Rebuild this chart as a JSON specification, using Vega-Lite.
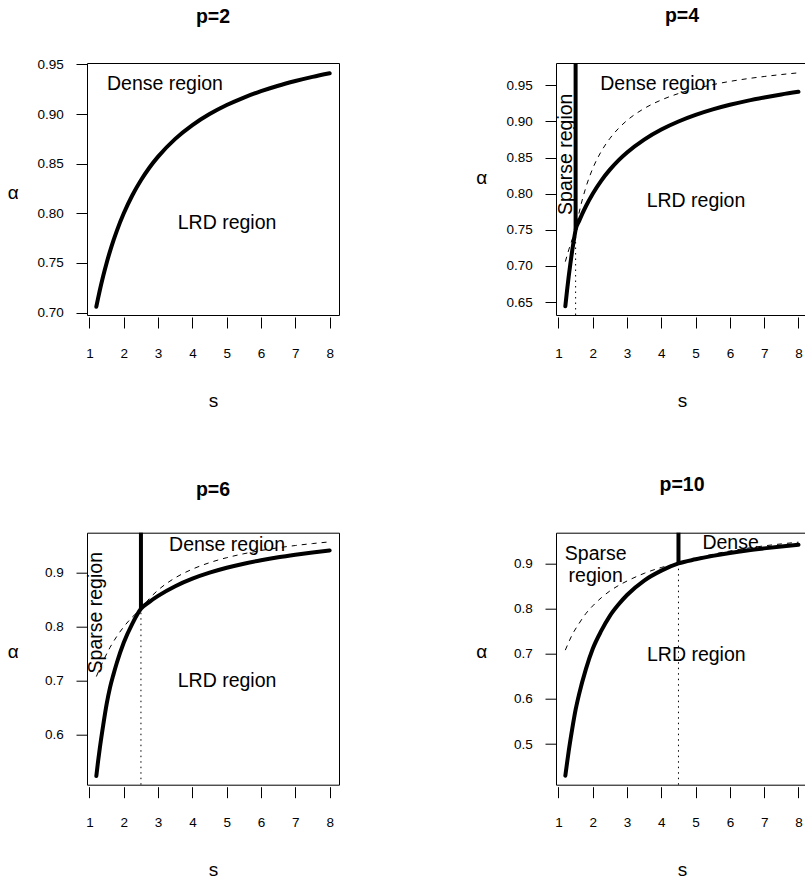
{
  "$schema": "https://vega.github.io/schema/vega-lite/v6.json",
  "background": "white",
  "padding": {"left": 6, "top": 5, "right": 0, "bottom": 0},
  "autosize": {"type": "pad"},
  "datasets": {
    "curves": [
      {"p": 2, "series": "solid", "s": 1.2, "a": 0.7059}, {"p": 2, "series": "solid", "s": 1.25, "a": 0.7143}, {"p": 2, "series": "solid", "s": 1.3, "a": 0.7222}, {"p": 2, "series": "solid", "s": 1.4, "a": 0.7368}, {"p": 2, "series": "solid", "s": 1.5, "a": 0.75}, {"p": 2, "series": "solid", "s": 1.6, "a": 0.7619}, {"p": 2, "series": "solid", "s": 1.7, "a": 0.7727}, {"p": 2, "series": "solid", "s": 1.8, "a": 0.7826}, {"p": 2, "series": "solid", "s": 2, "a": 0.8}, {"p": 2, "series": "solid", "s": 2.25, "a": 0.8182}, {"p": 2, "series": "solid", "s": 2.5, "a": 0.8333}, {"p": 2, "series": "solid", "s": 2.75, "a": 0.8462}, {"p": 2, "series": "solid", "s": 3, "a": 0.8571}, {"p": 2, "series": "solid", "s": 3.5, "a": 0.875}, {"p": 2, "series": "solid", "s": 4, "a": 0.8889}, {"p": 2, "series": "solid", "s": 4.5, "a": 0.9}, {"p": 2, "series": "solid", "s": 5, "a": 0.9091}, {"p": 2, "series": "solid", "s": 5.5, "a": 0.9167}, {"p": 2, "series": "solid", "s": 6, "a": 0.9231}, {"p": 2, "series": "solid", "s": 6.5, "a": 0.9286}, {"p": 2, "series": "solid", "s": 7, "a": 0.9333}, {"p": 2, "series": "solid", "s": 7.5, "a": 0.9375}, {"p": 2, "series": "solid", "s": 8, "a": 0.9412},

      {"p": 4, "series": "solid", "s": 1.2, "a": 0.644}, {"p": 4, "series": "solid", "s": 1.25, "a": 0.666}, {"p": 4, "series": "solid", "s": 1.3, "a": 0.686}, {"p": 4, "series": "solid", "s": 1.35, "a": 0.704}, {"p": 4, "series": "solid", "s": 1.4, "a": 0.721}, {"p": 4, "series": "solid", "s": 1.45, "a": 0.736}, {"p": 4, "series": "solid", "s": 1.5, "a": 0.75}, {"p": 4, "series": "solid", "s": 1.6, "a": 0.7619}, {"p": 4, "series": "solid", "s": 1.7, "a": 0.7727}, {"p": 4, "series": "solid", "s": 1.8, "a": 0.7826}, {"p": 4, "series": "solid", "s": 2, "a": 0.8}, {"p": 4, "series": "solid", "s": 2.25, "a": 0.8182}, {"p": 4, "series": "solid", "s": 2.5, "a": 0.8333}, {"p": 4, "series": "solid", "s": 2.75, "a": 0.8462}, {"p": 4, "series": "solid", "s": 3, "a": 0.8571}, {"p": 4, "series": "solid", "s": 3.5, "a": 0.875}, {"p": 4, "series": "solid", "s": 4, "a": 0.8889}, {"p": 4, "series": "solid", "s": 4.5, "a": 0.9}, {"p": 4, "series": "solid", "s": 5, "a": 0.9091}, {"p": 4, "series": "solid", "s": 5.5, "a": 0.9167}, {"p": 4, "series": "solid", "s": 6, "a": 0.9231}, {"p": 4, "series": "solid", "s": 6.5, "a": 0.9286}, {"p": 4, "series": "solid", "s": 7, "a": 0.9333}, {"p": 4, "series": "solid", "s": 7.5, "a": 0.9375}, {"p": 4, "series": "solid", "s": 8, "a": 0.9412},
      {"p": 4, "series": "dashed", "s": 1.2, "a": 0.7059}, {"p": 4, "series": "dashed", "s": 1.3, "a": 0.7222}, {"p": 4, "series": "dashed", "s": 1.4, "a": 0.7368}, {"p": 4, "series": "dashed", "s": 1.5, "a": 0.75}, {"p": 4, "series": "dashed", "s": 1.6, "a": 0.7733}, {"p": 4, "series": "dashed", "s": 1.8, "a": 0.8088}, {"p": 4, "series": "dashed", "s": 2, "a": 0.835}, {"p": 4, "series": "dashed", "s": 2.25, "a": 0.8587}, {"p": 4, "series": "dashed", "s": 2.5, "a": 0.8765}, {"p": 4, "series": "dashed", "s": 2.75, "a": 0.8904}, {"p": 4, "series": "dashed", "s": 3, "a": 0.9015}, {"p": 4, "series": "dashed", "s": 3.5, "a": 0.918}, {"p": 4, "series": "dashed", "s": 4, "a": 0.9298}, {"p": 4, "series": "dashed", "s": 4.5, "a": 0.9387}, {"p": 4, "series": "dashed", "s": 5, "a": 0.9455}, {"p": 4, "series": "dashed", "s": 5.5, "a": 0.951}, {"p": 4, "series": "dashed", "s": 6, "a": 0.9555}, {"p": 4, "series": "dashed", "s": 6.5, "a": 0.9592}, {"p": 4, "series": "dashed", "s": 7, "a": 0.9623}, {"p": 4, "series": "dashed", "s": 7.5, "a": 0.965}, {"p": 4, "series": "dashed", "s": 8, "a": 0.9674},

      {"p": 6, "series": "solid", "s": 1.2, "a": 0.524}, {"p": 6, "series": "solid", "s": 1.25, "a": 0.551}, {"p": 6, "series": "solid", "s": 1.3, "a": 0.575}, {"p": 6, "series": "solid", "s": 1.4, "a": 0.618}, {"p": 6, "series": "solid", "s": 1.5, "a": 0.657}, {"p": 6, "series": "solid", "s": 1.6, "a": 0.688}, {"p": 6, "series": "solid", "s": 1.7, "a": 0.712}, {"p": 6, "series": "solid", "s": 1.8, "a": 0.734}, {"p": 6, "series": "solid", "s": 2, "a": 0.771}, {"p": 6, "series": "solid", "s": 2.25, "a": 0.806}, {"p": 6, "series": "solid", "s": 2.5, "a": 0.8333}, {"p": 6, "series": "solid", "s": 2.75, "a": 0.8462}, {"p": 6, "series": "solid", "s": 3, "a": 0.8571}, {"p": 6, "series": "solid", "s": 3.5, "a": 0.875}, {"p": 6, "series": "solid", "s": 4, "a": 0.8889}, {"p": 6, "series": "solid", "s": 4.5, "a": 0.9}, {"p": 6, "series": "solid", "s": 5, "a": 0.9091}, {"p": 6, "series": "solid", "s": 5.5, "a": 0.9167}, {"p": 6, "series": "solid", "s": 6, "a": 0.9231}, {"p": 6, "series": "solid", "s": 6.5, "a": 0.9286}, {"p": 6, "series": "solid", "s": 7, "a": 0.9333}, {"p": 6, "series": "solid", "s": 7.5, "a": 0.9375}, {"p": 6, "series": "solid", "s": 8, "a": 0.9412},
      {"p": 6, "series": "dashed", "s": 1.2, "a": 0.708}, {"p": 6, "series": "dashed", "s": 1.4, "a": 0.7368}, {"p": 6, "series": "dashed", "s": 1.6, "a": 0.7619}, {"p": 6, "series": "dashed", "s": 1.8, "a": 0.7826}, {"p": 6, "series": "dashed", "s": 2, "a": 0.8}, {"p": 6, "series": "dashed", "s": 2.25, "a": 0.8182}, {"p": 6, "series": "dashed", "s": 2.5, "a": 0.8333}, {"p": 6, "series": "dashed", "s": 2.75, "a": 0.8526}, {"p": 6, "series": "dashed", "s": 3, "a": 0.8679}, {"p": 6, "series": "dashed", "s": 3.5, "a": 0.8906}, {"p": 6, "series": "dashed", "s": 4, "a": 0.9066}, {"p": 6, "series": "dashed", "s": 4.5, "a": 0.9186}, {"p": 6, "series": "dashed", "s": 5, "a": 0.9278}, {"p": 6, "series": "dashed", "s": 5.5, "a": 0.9351}, {"p": 6, "series": "dashed", "s": 6, "a": 0.9411}, {"p": 6, "series": "dashed", "s": 6.5, "a": 0.9461}, {"p": 6, "series": "dashed", "s": 7, "a": 0.9503}, {"p": 6, "series": "dashed", "s": 7.5, "a": 0.9539}, {"p": 6, "series": "dashed", "s": 8, "a": 0.957},

      {"p": 10, "series": "solid", "s": 1.2, "a": 0.43}, {"p": 10, "series": "solid", "s": 1.25, "a": 0.458}, {"p": 10, "series": "solid", "s": 1.3, "a": 0.485}, {"p": 10, "series": "solid", "s": 1.4, "a": 0.533}, {"p": 10, "series": "solid", "s": 1.5, "a": 0.576}, {"p": 10, "series": "solid", "s": 1.6, "a": 0.61}, {"p": 10, "series": "solid", "s": 1.8, "a": 0.666}, {"p": 10, "series": "solid", "s": 2, "a": 0.711}, {"p": 10, "series": "solid", "s": 2.25, "a": 0.751}, {"p": 10, "series": "solid", "s": 2.5, "a": 0.784}, {"p": 10, "series": "solid", "s": 2.75, "a": 0.809}, {"p": 10, "series": "solid", "s": 3, "a": 0.83}, {"p": 10, "series": "solid", "s": 3.5, "a": 0.862}, {"p": 10, "series": "solid", "s": 4, "a": 0.884}, {"p": 10, "series": "solid", "s": 4.5, "a": 0.9}, {"p": 10, "series": "solid", "s": 5, "a": 0.9091}, {"p": 10, "series": "solid", "s": 5.5, "a": 0.9167}, {"p": 10, "series": "solid", "s": 6, "a": 0.9231}, {"p": 10, "series": "solid", "s": 6.5, "a": 0.9286}, {"p": 10, "series": "solid", "s": 7, "a": 0.9333}, {"p": 10, "series": "solid", "s": 7.5, "a": 0.9375}, {"p": 10, "series": "solid", "s": 8, "a": 0.9412},
      {"p": 10, "series": "dashed", "s": 1.2, "a": 0.708}, {"p": 10, "series": "dashed", "s": 1.4, "a": 0.742}, {"p": 10, "series": "dashed", "s": 1.6, "a": 0.767}, {"p": 10, "series": "dashed", "s": 1.8, "a": 0.789}, {"p": 10, "series": "dashed", "s": 2, "a": 0.806}, {"p": 10, "series": "dashed", "s": 2.25, "a": 0.824}, {"p": 10, "series": "dashed", "s": 2.5, "a": 0.839}, {"p": 10, "series": "dashed", "s": 2.75, "a": 0.851}, {"p": 10, "series": "dashed", "s": 3, "a": 0.861}, {"p": 10, "series": "dashed", "s": 3.5, "a": 0.878}, {"p": 10, "series": "dashed", "s": 4, "a": 0.891}, {"p": 10, "series": "dashed", "s": 4.5, "a": 0.9}, {"p": 10, "series": "dashed", "s": 5, "a": 0.9112}, {"p": 10, "series": "dashed", "s": 5.5, "a": 0.9202}, {"p": 10, "series": "dashed", "s": 6, "a": 0.9275}, {"p": 10, "series": "dashed", "s": 6.5, "a": 0.9336}, {"p": 10, "series": "dashed", "s": 7, "a": 0.9388}, {"p": 10, "series": "dashed", "s": 7.5, "a": 0.9432}, {"p": 10, "series": "dashed", "s": 8, "a": 0.947}
    ],
    "vlines": [
      {"p": 4, "kind": "thick", "s": 1.5, "a": 0.75, "a2": 0.981},
      {"p": 4, "kind": "dotted", "s": 1.5, "a": 0.632, "a2": 0.75},
      {"p": 6, "kind": "thick", "s": 2.5, "a": 0.8333, "a2": 0.974},
      {"p": 6, "kind": "dotted", "s": 2.5, "a": 0.508, "a2": 0.8333},
      {"p": 10, "kind": "thick", "s": 4.5, "a": 0.9, "a2": 0.968},
      {"p": 10, "kind": "dotted", "s": 4.5, "a": 0.41, "a2": 0.9}
    ],
    "labels": [
      {"p": 2, "dir": "h", "label": "Dense region", "s": 3.2, "a": 0.9243},
      {"p": 2, "dir": "h", "label": "LRD region", "s": 5.01, "a": 0.7842},
      {"p": 4, "dir": "h", "label": "Dense region", "s": 3.91, "a": 0.9436},
      {"p": 4, "dir": "h", "label": "LRD region", "s": 5.01, "a": 0.7816},
      {"p": 4, "dir": "v", "label": "Sparse region", "s": 1.395, "a": 0.8546},
      {"p": 6, "dir": "h", "label": "Dense region", "s": 5.01, "a": 0.9402},
      {"p": 6, "dir": "h", "label": "LRD region", "s": 5.01, "a": 0.6887},
      {"p": 6, "dir": "v", "label": "Sparse region", "s": 1.374, "a": 0.826},
      {"p": 10, "dir": "h", "label": "Sparse", "s": 2.086, "a": 0.9085},
      {"p": 10, "dir": "h", "label": "region", "s": 2.086, "a": 0.8585},
      {"p": 10, "dir": "h", "label": "Dense", "s": 6.02, "a": 0.9312},
      {"p": 10, "dir": "h", "label": "LRD region", "s": 5.02, "a": 0.685}
    ]
  },
  "columns": 2,
  "spacing": {"row": 217.7, "column": 217},
  "bounds": "flush",
  "concat": [
    {
      "width": 252, "height": 252,
      "view": {"stroke": "black", "strokeWidth": 1},
      "title": {"text": "p=2"},
      "encoding": {
        "x": {"field": "s", "type": "quantitative", "scale": {"domain": [0.928, 8.272], "nice": false, "zero": false}, "axis": {"values": [1, 2, 3, 4, 5, 6, 7, 8], "format": "d", "title": "s", "titleX": 126, "titleY": 89}},
        "y": {"field": "a", "type": "quantitative", "scale": {"domain": [0.6975, 0.9515], "nice": false, "zero": false}, "axis": {"values": [0.7, 0.75, 0.8, 0.85, 0.9, 0.95], "format": ".2f", "title": "α", "titleX": -74.3, "titleY": 135.3}}
      },
      "layer": [
        {"data": {"name": "curves"}, "transform": [{"filter": "datum.p == 2 && datum.series == 'solid'"}], "mark": {"type": "line", "color": "black", "strokeWidth": 4, "strokeCap": "round", "interpolate": "monotone"}},
        {"data": {"name": "labels"}, "transform": [{"filter": "datum.p == 2 && datum.dir == 'h'"}], "mark": {"type": "text", "color": "black", "font": "Liberation Sans", "fontSize": 19.5, "align": "center", "baseline": "alphabetic"}, "encoding": {"text": {"field": "label"}}}
      ]
    },
    {
      "width": 249, "height": 252,
      "view": {"stroke": null},
      "title": {"text": "p=4", "dx": 1.5},
      "encoding": {
        "x": {"field": "s", "type": "quantitative", "scale": {"domain": [0.928, 8.19], "nice": false, "zero": false}, "axis": {"values": [1, 2, 3, 4, 5, 6, 7, 8], "format": "d", "title": "s", "titleX": 126, "titleY": 89}},
        "y": {"field": "a", "type": "quantitative", "scale": {"domain": [0.632, 0.981], "nice": false, "zero": false}, "axis": {
          "values": [0.632, 0.65, 0.7, 0.75, 0.8, 0.85, 0.9, 0.95, 0.981],
          "labelExpr": "(datum.value < 0.64 || datum.value > 0.97) ? '' : format(datum.value, '.2f')",
          "domain": true, "domainColor": "black", "domainWidth": 1,
          "grid": true, "gridColor": "black", "gridWidth": 1,
          "gridOpacity": {"condition": {"test": "datum.value < 0.64 || datum.value > 0.97", "value": 1}, "value": 0},
          "tickOpacity": {"condition": {"test": "datum.value < 0.64 || datum.value > 0.97", "value": 0}, "value": 1},
          "title": "α", "titleX": -74.7, "titleY": 120.7}}
      },
      "layer": [
        {"data": {"name": "curves"}, "transform": [{"filter": "datum.p == 4 && datum.series == 'dashed'"}], "mark": {"type": "line", "color": "black", "strokeWidth": 1, "strokeDash": [5, 5], "interpolate": "monotone"}},
        {"data": {"name": "curves"}, "transform": [{"filter": "datum.p == 4 && datum.series == 'solid'"}], "mark": {"type": "line", "color": "black", "strokeWidth": 4, "strokeCap": "round", "interpolate": "monotone"}},
        {"data": {"name": "vlines"}, "transform": [{"filter": "datum.p == 4 && datum.kind == 'thick'"}], "mark": {"type": "rule", "color": "black", "strokeWidth": 4}, "encoding": {"y2": {"field": "a2"}}},
        {"data": {"name": "vlines"}, "transform": [{"filter": "datum.p == 4 && datum.kind == 'dotted'"}], "mark": {"type": "rule", "color": "black", "strokeWidth": 1, "strokeDash": [1.5, 4]}, "encoding": {"y2": {"field": "a2"}}},
        {"data": {"name": "labels"}, "transform": [{"filter": "datum.p == 4 && datum.dir == 'h'"}], "mark": {"type": "text", "color": "black", "font": "Liberation Sans", "fontSize": 19.5, "align": "center", "baseline": "alphabetic"}, "encoding": {"text": {"field": "label"}}},
        {"data": {"name": "labels"}, "transform": [{"filter": "datum.p == 4 && datum.dir == 'v'"}], "mark": {"type": "text", "color": "black", "font": "Liberation Sans", "fontSize": 19.5, "align": "center", "baseline": "alphabetic", "angle": 270}, "encoding": {"text": {"field": "label"}}}
      ]
    },
    {
      "width": 252, "height": 252,
      "view": {"stroke": "black", "strokeWidth": 1},
      "title": {"text": "p=6"},
      "encoding": {
        "x": {"field": "s", "type": "quantitative", "scale": {"domain": [0.928, 8.272], "nice": false, "zero": false}, "axis": {"values": [1, 2, 3, 4, 5, 6, 7, 8], "format": "d", "title": "s", "titleX": 126, "titleY": 88.5}},
        "y": {"field": "a", "type": "quantitative", "scale": {"domain": [0.508, 0.974], "nice": false, "zero": false}, "axis": {"values": [0.6, 0.7, 0.8, 0.9], "format": ".1f", "title": "α", "titleX": -74.3, "titleY": 125}}
      },
      "layer": [
        {"data": {"name": "curves"}, "transform": [{"filter": "datum.p == 6 && datum.series == 'dashed'"}], "mark": {"type": "line", "color": "black", "strokeWidth": 1, "strokeDash": [5, 5], "interpolate": "monotone"}},
        {"data": {"name": "curves"}, "transform": [{"filter": "datum.p == 6 && datum.series == 'solid'"}], "mark": {"type": "line", "color": "black", "strokeWidth": 4, "strokeCap": "round", "interpolate": "monotone"}},
        {"data": {"name": "vlines"}, "transform": [{"filter": "datum.p == 6 && datum.kind == 'thick'"}], "mark": {"type": "rule", "color": "black", "strokeWidth": 4}, "encoding": {"y2": {"field": "a2"}}},
        {"data": {"name": "vlines"}, "transform": [{"filter": "datum.p == 6 && datum.kind == 'dotted'"}], "mark": {"type": "rule", "color": "black", "strokeWidth": 1, "strokeDash": [1.5, 4]}, "encoding": {"y2": {"field": "a2"}}},
        {"data": {"name": "labels"}, "transform": [{"filter": "datum.p == 6 && datum.dir == 'h'"}], "mark": {"type": "text", "color": "black", "font": "Liberation Sans", "fontSize": 19.5, "align": "center", "baseline": "alphabetic"}, "encoding": {"text": {"field": "label"}}},
        {"data": {"name": "labels"}, "transform": [{"filter": "datum.p == 6 && datum.dir == 'v'"}], "mark": {"type": "text", "color": "black", "font": "Liberation Sans", "fontSize": 19.5, "align": "center", "baseline": "alphabetic", "angle": 270}, "encoding": {"text": {"field": "label"}}}
      ]
    },
    {
      "width": 249, "height": 252,
      "view": {"stroke": null},
      "title": {"text": "p=10", "dx": 1.5},
      "encoding": {
        "x": {"field": "s", "type": "quantitative", "scale": {"domain": [0.928, 8.19], "nice": false, "zero": false}, "axis": {"values": [1, 2, 3, 4, 5, 6, 7, 8], "format": "d", "title": "s", "titleX": 126, "titleY": 88.5}},
        "y": {"field": "a", "type": "quantitative", "scale": {"domain": [0.41, 0.968], "nice": false, "zero": false}, "axis": {
          "values": [0.41, 0.5, 0.6, 0.7, 0.8, 0.9, 0.968],
          "labelExpr": "(datum.value < 0.45 || datum.value > 0.95) ? '' : format(datum.value, '.1f')",
          "domain": true, "domainColor": "black", "domainWidth": 1,
          "grid": true, "gridColor": "black", "gridWidth": 1,
          "gridOpacity": {"condition": {"test": "datum.value < 0.45 || datum.value > 0.95", "value": 1}, "value": 0},
          "tickOpacity": {"condition": {"test": "datum.value < 0.45 || datum.value > 0.95", "value": 0}, "value": 1},
          "title": "α", "titleX": -74.7, "titleY": 125}}
      },
      "layer": [
        {"data": {"name": "curves"}, "transform": [{"filter": "datum.p == 10 && datum.series == 'dashed'"}], "mark": {"type": "line", "color": "black", "strokeWidth": 1, "strokeDash": [5, 5], "interpolate": "monotone"}},
        {"data": {"name": "curves"}, "transform": [{"filter": "datum.p == 10 && datum.series == 'solid'"}], "mark": {"type": "line", "color": "black", "strokeWidth": 4, "strokeCap": "round", "interpolate": "monotone"}},
        {"data": {"name": "vlines"}, "transform": [{"filter": "datum.p == 10 && datum.kind == 'thick'"}], "mark": {"type": "rule", "color": "black", "strokeWidth": 4}, "encoding": {"y2": {"field": "a2"}}},
        {"data": {"name": "vlines"}, "transform": [{"filter": "datum.p == 10 && datum.kind == 'dotted'"}], "mark": {"type": "rule", "color": "black", "strokeWidth": 1, "strokeDash": [1.5, 4]}, "encoding": {"y2": {"field": "a2"}}},
        {"data": {"name": "labels"}, "transform": [{"filter": "datum.p == 10 && datum.dir == 'h'"}], "mark": {"type": "text", "color": "black", "font": "Liberation Sans", "fontSize": 19.5, "align": "center", "baseline": "alphabetic"}, "encoding": {"text": {"field": "label"}}}
      ]
    }
  ],
  "config": {
    "font": "Liberation Sans",
    "axis": {
      "grid": false, "domain": false,
      "tickColor": "black", "tickWidth": 1, "tickSize": 11,
      "labelFont": "Liberation Sans", "labelFontSize": 13.5, "labelColor": "black",
      "labelFlush": false, "labelOverlap": false,
      "titleFont": "Liberation Sans", "titleFontSize": 19, "titleFontWeight": "normal", "titleColor": "black",
      "titleAlign": "center", "titleBaseline": "alphabetic", "titleAngle": 0
    },
    "axisX": {"offset": 2, "labelPadding": 29, "labelBaseline": "alphabetic"},
    "axisY": {"labelPadding": 12.7},
    "title": {"font": "Liberation Sans", "fontSize": 19.5, "fontWeight": "bold", "color": "black", "baseline": "alphabetic", "offset": 30, "frame": "group", "anchor": "middle"}
  }
}
